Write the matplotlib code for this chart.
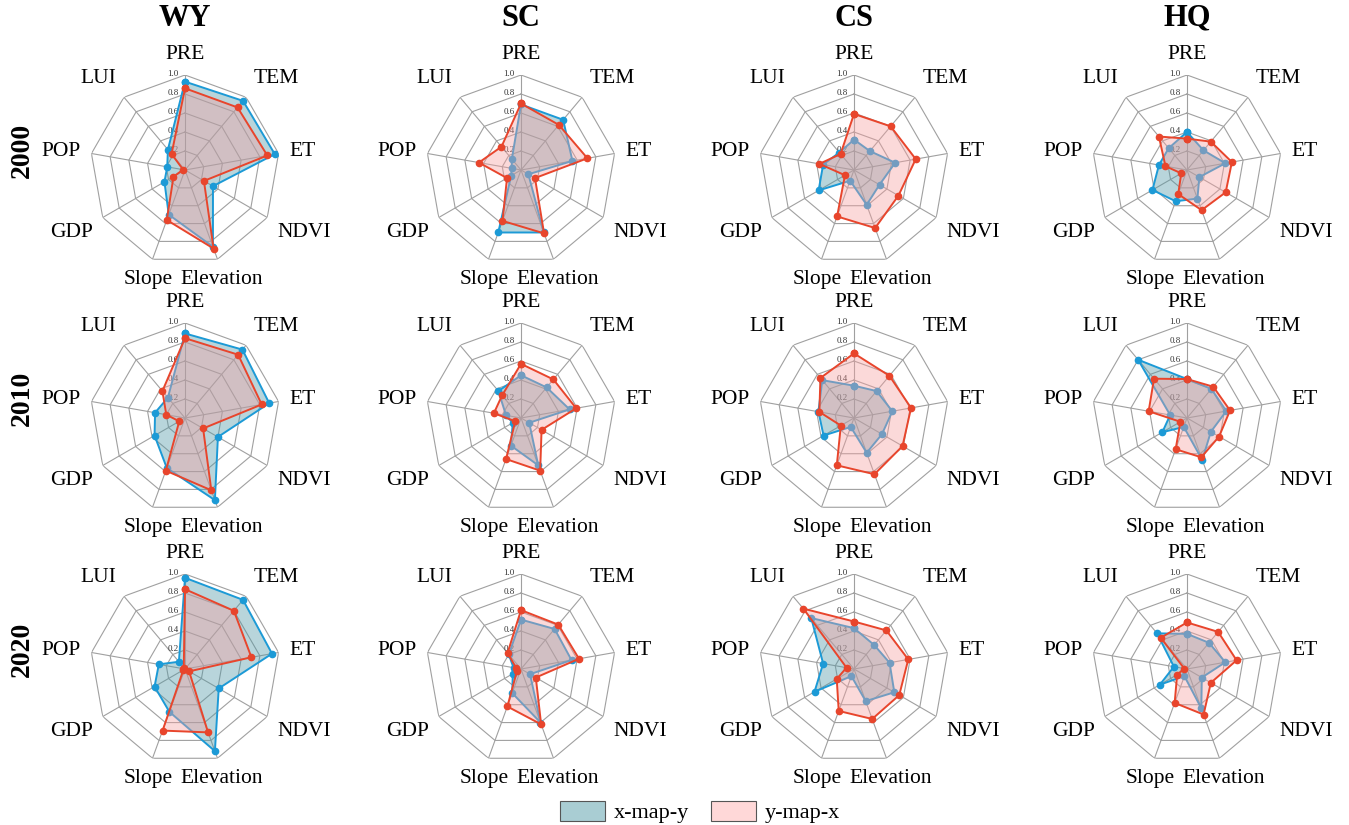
import numpy as np
import matplotlib
matplotlib.use("Agg")
import matplotlib.pyplot as plt
from matplotlib.patches import Patch
from matplotlib.transforms import offset_copy

plt.rcParams['font.family'] = ['Liberation Serif', 'DejaVu Serif']

labels = ['PRE', 'TEM', 'ET', 'NDVI', 'Elevation', 'Slope', 'GDP', 'POP', 'LUI']
regions = ['WY', 'SC', 'CS', 'HQ']
years = ['2000', '2010', '2020']
ticks = [0.2, 0.4, 0.6, 0.8, 1.0]

# x-map-y (blue), one list per year
wy_xy = [[0.93, 0.95, 0.96, 0.34, 0.86, 0.50, 0.25, 0.19, 0.28],
         [0.89, 0.94, 0.90, 0.40, 0.92, 0.56, 0.37, 0.32, 0.28],
         [0.96, 0.95, 0.93, 0.41, 0.92, 0.48, 0.37, 0.28, 0.10]]
sc_xy = [[0.69, 0.69, 0.55, 0.09, 0.70, 0.70, 0.12, 0.10, 0.15],
         [0.45, 0.42, 0.52, 0.10, 0.53, 0.31, 0.10, 0.16, 0.37],
         [0.52, 0.55, 0.54, 0.11, 0.60, 0.27, 0.10, 0.08, 0.20]]
cs_xy = [[0.32, 0.26, 0.44, 0.31, 0.39, 0.12, 0.43, 0.33, 0.24],
         [0.34, 0.37, 0.41, 0.34, 0.39, 0.10, 0.37, 0.38, 0.52],
         [0.43, 0.33, 0.38, 0.49, 0.36, 0.08, 0.48, 0.33, 0.70]]
hq_xy = [[0.40, 0.27, 0.41, 0.15, 0.32, 0.35, 0.42, 0.30, 0.30],
         [0.41, 0.40, 0.42, 0.29, 0.47, 0.10, 0.30, 0.18, 0.80],
         [0.37, 0.36, 0.41, 0.18, 0.44, 0.08, 0.33, 0.14, 0.49]]

# y-map-x (red)
wy_yx = [[0.86, 0.86, 0.88, 0.23, 0.88, 0.56, 0.14, 0.02, 0.22],
         [0.84, 0.87, 0.82, 0.22, 0.81, 0.59, 0.07, 0.20, 0.37],
         [0.84, 0.80, 0.71, 0.05, 0.71, 0.69, 0.02, 0.02, 0.02]]
sc_yx = [[0.70, 0.62, 0.71, 0.17, 0.71, 0.57, 0.17, 0.45, 0.32],
         [0.57, 0.53, 0.59, 0.25, 0.59, 0.46, 0.07, 0.29, 0.31],
         [0.62, 0.61, 0.62, 0.18, 0.62, 0.42, 0.05, 0.05, 0.22]]
cs_yx = [[0.59, 0.60, 0.66, 0.54, 0.65, 0.52, 0.11, 0.37, 0.22],
         [0.68, 0.58, 0.61, 0.59, 0.63, 0.53, 0.16, 0.37, 0.55],
         [0.50, 0.53, 0.58, 0.55, 0.56, 0.47, 0.21, 0.08, 0.83]]
hq_yx = [[0.33, 0.39, 0.48, 0.47, 0.45, 0.27, 0.07, 0.23, 0.46],
         [0.41, 0.43, 0.46, 0.39, 0.44, 0.35, 0.08, 0.41, 0.54],
         [0.49, 0.51, 0.53, 0.29, 0.51, 0.38, 0.12, 0.03, 0.43]]

xy_all = [wy_xy, sc_xy, cs_xy, hq_xy]
yx_all = [wy_yx, sc_yx, cs_yx, hq_yx]

blue_line = '#1c9ad6'
blue_fill = '#4f98a6'
red_line = '#e8452c'
red_fill = '#f7a0a0'

W, H = 1349, 825
fig = plt.figure(figsize=(W / 100, H / 100), dpi=100)

col_x = [185, 521, 854, 1187]
row_y = [170, 418, 669]
R = 95

n = len(labels)
ang = np.linspace(0, 2 * np.pi, n, endpoint=False)
ang_c = np.append(ang, ang[0])

for i, yr in enumerate(years):
    for j, reg in enumerate(regions):
        cx, cy = col_x[j], row_y[i]
        ax = fig.add_axes([(cx - R) / W, (H - cy - R) / H, 2 * R / W, 2 * R / H],
                          projection='polar')
        ax.set_theta_offset(np.pi / 2)
        ax.set_theta_direction(-1)
        ax.set_ylim(0, 1)
        ax.grid(False)
        ax.spines['polar'].set_visible(False)
        ax.set_xticks([])
        ax.set_yticks([])
        ax.patch.set_alpha(0)

        # nonagon grid
        for t in ticks:
            ax.plot(ang_c, [t] * (n + 1), color='#a0a0a0', lw=0.8, zorder=1)
        for a in ang:
            ax.plot([a, a], [0, 1], color='#a0a0a0', lw=0.8, zorder=1)

        tr = offset_copy(ax.transData, fig=fig, x=-12, y=1, units='dots')
        for t in ticks:
            ax.text(0, t, f'{t:.1f}', transform=tr, fontsize=6.5, color='#333333',
                    ha='center', va='center', zorder=2)

        # category labels
        for a, lab in zip(ang, labels):
            dx = np.sin(a)
            dy = np.cos(a)
            ha = 'center' if abs(dx) < 0.4 else ('left' if dx > 0 else 'right')
            va = 'center' if abs(dy) < 0.4 else ('bottom' if dy > 0 else 'top')
            ax.text(a, 1.12, lab, fontsize=15.5, ha=ha, va=va, clip_on=False)

        v1 = np.append(xy_all[j][i], xy_all[j][i][0])
        v2 = np.append(yx_all[j][i], yx_all[j][i][0])
        ax.fill(ang_c, v1, color=blue_fill, alpha=0.4, lw=0, zorder=3)
        ax.plot(ang_c, v1, color=blue_line, lw=1.4, marker='o', ms=4.5, zorder=4)
        ax.fill(ang_c, v2, color=red_fill, alpha=0.4, lw=0, zorder=5)
        ax.plot(ang_c, v2, color=red_line, lw=1.4, marker='o', ms=4.5, zorder=6)

        if i == 0:
            fig.text(cx / W, 1 - 18 / H, reg, fontsize=22, fontweight='bold',
                     ha='center', va='center')
    fig.text(22 / W, 1 - (row_y[i] - 20) / H, yr, fontsize=20, fontweight='bold',
             rotation=90, ha='center', va='center')

handles = [Patch(facecolor='#a9cdd3', edgecolor='#555555', lw=0.8),
           Patch(facecolor='#ffd8d8', edgecolor='#555555', lw=0.8)]
fig.legend(handles, ['x-map-y', 'y-map-x'], loc='center', bbox_to_anchor=(700 / W, 1 - 812 / H),
           ncol=2, frameon=False, fontsize=16, handlelength=2.0, handleheight=1.0,
           columnspacing=1.0, handletextpad=0.4)

fig.savefig('out.png', dpi=100)
